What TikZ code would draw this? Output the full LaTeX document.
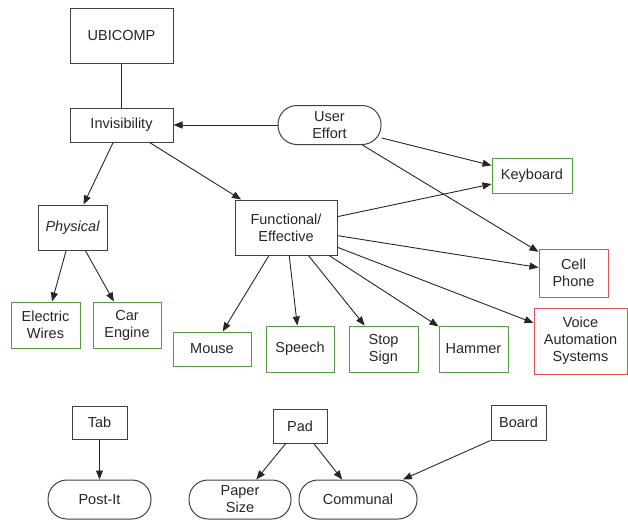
\documentclass[tikz,border=0pt]{standalone}
\usepackage{fontspec}
\setmainfont{Liberation Sans}
\usetikzlibrary{arrows.meta}
\definecolor{boxgreen}{RGB}{84,156,68}
\definecolor{boxred}{RGB}{226,80,80}
\begin{document}
\begin{tikzpicture}[x=1pt,y=1pt,
  every node/.style={font=\fontsize{14.5}{17}\selectfont, align=center, inner sep=0pt, text=black!85},
  box/.style={draw=black!75, line width=1pt, minimum width=#1},
  box/.default=60pt,
  gbox/.style={box, draw=boxgreen},
  rbox/.style={box, draw=boxred},
  pill/.style={box, rounded corners=19pt},
  conn/.style={draw=black!85, line width=0.9pt},
  arr/.style={conn, -{Triangle[length=9pt,width=7pt]}}]
\useasboundingbox (0,0) rectangle (628,-520);
% top part
\node[box=103pt, minimum height=55pt] (ubi) at (121.5,-35.5) {UBICOMP};
\node[box=103pt, minimum height=34pt] (inv) at (121.5,-125) {Invisibility};
\node[pill, minimum width=103pt, minimum height=39pt] (user) at (329.5,-125) {User\\Effort};
\node[gbox, minimum width=80pt, minimum height=35pt] (kb) at (532,-175.5) {Keyboard};
\node[rbox, minimum width=69pt, minimum height=48pt] (cell) at (573.5,-273) {Cell\\Phone};
\node[box, minimum width=69pt, minimum height=45pt] (phys) at (72.5,-227.5) {\itshape Physical};
\node[box, minimum width=102pt, minimum height=55pt] (func) at (286,-227.5) {Functional/\\Effective};
\node[gbox, minimum width=69pt, minimum height=46pt] (ew) at (45.5,-325) {Electric\\Wires};
\node[gbox, minimum width=68pt, minimum height=46pt] (ce) at (127,-325) {Car\\Engine};
\node[gbox, minimum width=78pt, minimum height=34pt] (mouse) at (212,-349) {Mouse};
\node[gbox, minimum width=68pt, minimum height=46pt] (speech) at (300,-349) {Speech};
\node[gbox, minimum width=69pt, minimum height=46pt] (stop) at (383.5,-349) {Stop\\Sign};
\node[gbox, minimum width=69pt, minimum height=46pt] (hammer) at (473.5,-349) {Hammer};
\node[rbox, minimum width=93pt, minimum height=66pt] (voice) at (580.5,-341) {Voice\\Automation\\Systems};
% bottom part
\node[box, minimum width=55pt, minimum height=33pt] (tab) at (99.5,-422.5) {Tab};
\node[pill, minimum width=103pt, minimum height=39pt] (postit) at (99.5,-499.5) {Post-It};
\node[box, minimum width=54pt, minimum height=34pt] (pad) at (300,-426) {Pad};
\node[pill, minimum width=102pt, minimum height=39pt] (paper) at (240,-499.5) {Paper\\Size};
\node[pill, minimum width=118pt, minimum height=39pt] (communal) at (358,-499.5) {Communal};
\node[box, minimum width=55pt, minimum height=35pt] (board) at (518.5,-422.5) {Board};
% connectors
\draw[conn] (ubi) -- (inv);
\draw[arr] (user) -- (inv);
\draw[arr] (inv) -- (phys);
\draw[arr] (inv) -- (func);
\draw[arr] (user) -- (kb);
\draw[arr] (user) -- (cell);
\draw[arr] (func) -- (kb);
\draw[arr] (func) -- (cell);
\draw[arr] (func) -- (voice);
\draw[arr] (func) -- (mouse);
\draw[arr] (func) -- (speech);
\draw[arr] (func) -- (stop);
\draw[arr] (func) -- (hammer);
\draw[arr] (phys) -- (ew);
\draw[arr] (phys) -- (ce);
\draw[arr] (tab) -- (postit);
\draw[arr] (pad) -- (paper);
\draw[arr] (pad) -- (communal);
\draw[arr] (board.south west) -- (communal);
\end{tikzpicture}
\end{document}
